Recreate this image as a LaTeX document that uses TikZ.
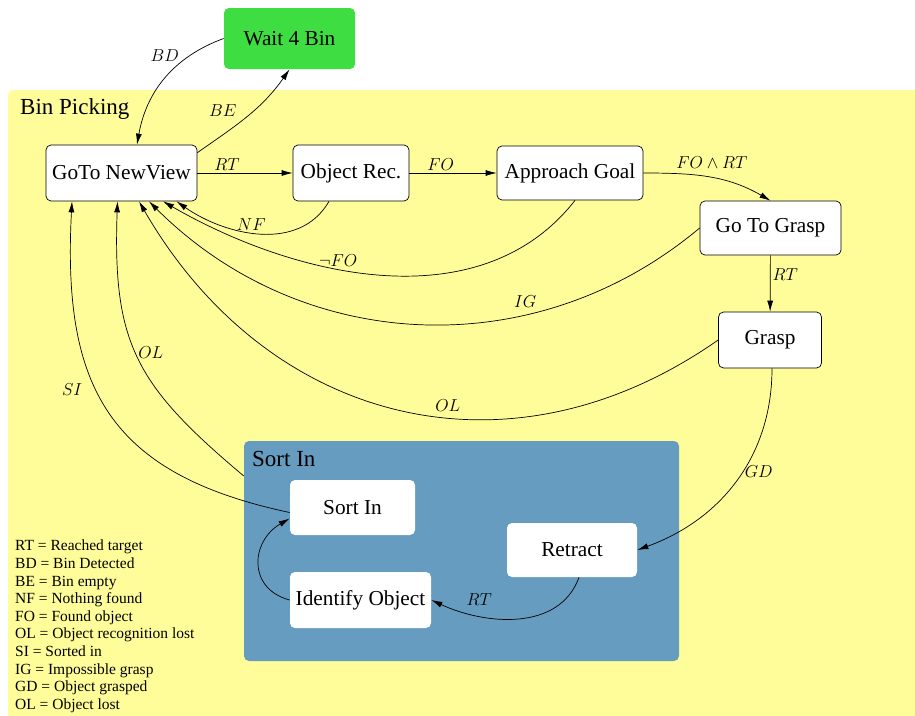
\documentclass[tikz,border=0pt]{standalone}
\usepackage{fontspec}
\setmainfont{Liberation Serif}
\usetikzlibrary{arrows.meta,positioning}
\definecolor{binyellow}{RGB}{255,253,153}
\definecolor{sortblue}{RGB}{102,156,192}
\definecolor{waitgreen}{RGB}{62,221,66}
\tikzset{
  state/.style={draw, rounded corners=5pt, fill=white, line width=0.7pt,
    font=\fontsize{21.3}{24}\selectfont, inner sep=0pt},
  inner/.style={state, draw=none},
  title/.style={anchor=west, inner sep=0pt, font=\fontsize{23}{26}\selectfont},
  trans/.style={-{Latex[length=11pt,width=6pt]}, line width=0.7pt},
  cond/.style={font=\fontsize{18}{20}\selectfont, inner sep=2pt},
}

\begin{document}
\begin{tikzpicture}[x=1pt,y=1pt]
  \useasboundingbox (0,0) rectangle (915,-715);

  % super states
  \fill[binyellow, rounded corners=6pt] (8,-90) rectangle (935,-735);
  \node[title] (bintitle) at (20,-109) {Bin Picking};
  \node[fill=sortblue, rounded corners=5pt, inner sep=0pt,
    minimum width=435pt, minimum height=220pt] (sortbox) at (461.5,-551) {};
  \node[title] (sorttitle) at (252,-459) {Sort In};

  % states
  \node[inner, fill=waitgreen, minimum width=131pt, minimum height=61pt] (wait) at (289.5,-38.5) {Wait 4 Bin};
  \node[state, minimum width=151pt, minimum height=56pt] (gotonv) at (121.5,-173) {GoTo NewView};
  \node[state, minimum width=116pt, minimum height=56pt] (objrec) at (351,-173) {Object Rec.};
  \node[state, minimum width=146pt, minimum height=54pt] (approach) at (570,-173) {Approach Goal};
  \node[state, minimum width=141pt, minimum height=54pt] (gotograsp) at (770.5,-228) {Go To Grasp};
  \node[state, minimum width=103pt, minimum height=56pt] (grasp) at (770,-340) {Grasp};
  \node[inner, minimum width=125pt, minimum height=55pt] (sortin) at (352.5,-507.5) {Sort In};
  \node[inner, minimum width=130pt, minimum height=54pt] (retract) at (572,-550) {Retract};
  \node[inner, minimum width=141pt, minimum height=56pt] (identify) at (360.5,-600) {Identify Object};

  % transitions
  \draw[trans] (wait.west) to[out=200,in=80] node[cond,pos=0.25,left=9pt]{$BD$} ([xshift=15.5pt]gotonv.north);
  \draw[trans] (gotonv.15) to[out=35,in=235] node[cond,pos=0.42,above left=3pt]{$BE$} (wait.south);
  \draw[trans] (gotonv) -- node[cond,pos=0.31,above]{$RT$} (objrec);
  \draw[trans] (objrec) -- node[cond,pos=0.36,above]{$FO$} (approach);
  \draw[trans] (approach.east) to[out=0,in=150] node[cond,pos=0.52,above=7pt]{$FO\wedge RT$} (gotograsp.north);
  \draw[trans] (gotograsp) -- node[cond,pos=0.35,right]{$RT$} (grasp);
  \draw[trans] ([xshift=-22pt]objrec.south) to[out=240,in=-35] node[cond,pos=0.55,above]{$NF$} ([xshift=55pt]gotonv.south);
  \draw[trans] ([xshift=5pt]approach.south) to[out=232,in=-30,looseness=0.95] node[cond,pos=0.6,above]{$\neg FO$} ([xshift=41.5pt]gotonv.south);
  \draw[trans] (gotograsp.west) to[out=220,in=-45] node[cond,pos=0.32,above=5pt]{$IG$} ([xshift=27.5pt]gotonv.south);
  \draw[trans] (grasp.west) to[out=215,in=-60,looseness=1.1] node[cond,pos=0.42,above=4pt]{$OL$} ([xshift=17.5pt]gotonv.south);
  \draw[trans] ([xshift=2pt]grasp.south) to[out=-90,in=20] node[cond,pos=0.45,right]{$GD$} (retract.east);
  \draw[trans] ([xshift=7pt]retract.south) to[out=-110,in=-25] node[cond,pos=0.72,above=8pt]{$RT$} (identify.east);
  \draw[trans] (identify.west) to[out=165,in=210,looseness=1.4] ([yshift=-11pt]sortin.west);
  \draw[trans] ([yshift=-5pt]sortin.west) to[out=168,in=-93,looseness=1.25] node[cond,pos=0.57,left=12pt]{$SI$} ([xshift=-49.5pt]gotonv.south);
  \draw[trans] ([yshift=75pt]sortbox.west) to[out=140,in=-92,looseness=1.2] node[cond,pos=0.52,right]{$OL$} ([xshift=-4pt]gotonv.south);

  % legend
  \node[anchor=north west, align=left, inner sep=0pt, font=\fontsize{15.5}{17.6}\selectfont] (legend) at (15,-540)
    {RT = Reached target\\ BD = Bin Detected\\ BE = Bin empty\\ NF = Nothing found\\ FO = Found object\\
     OL = Object recognition lost\\ SI = Sorted in\\ IG = Impossible grasp\\ GD = Object grasped\\ OL = Object lost};
\end{tikzpicture}
\end{document}
